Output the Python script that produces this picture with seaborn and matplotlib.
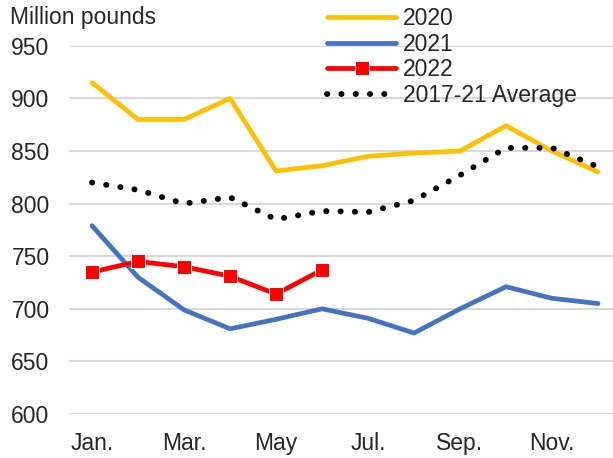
import pandas as pd
import matplotlib.pyplot as plt
import seaborn as sns

sns.set_style('white')
plt.rcParams['font.family'] = ['Liberation Sans', 'DejaVu Sans']

months = ['Jan.', 'Feb.', 'Mar.', 'Apr.', 'May', 'Jun.', 'Jul.', 'Aug.', 'Sep.', 'Oct.', 'Nov.', 'Dec.']
y2020 = [915, 880, 880, 900, 831, 836, 845, 848, 850, 874, 850, 830]
y2021 = [779, 730, 699, 681, 690, 700, 691, 677, 700, 721, 710, 705]
y2022 = [735, 745, 740, 731, 714, 737]
avg = [820, 813, 800, 806, 785, 793, 792, 803, 827, 853, 853, 835]

rows = []
for name, vals in [('2020', y2020), ('2021', y2021), ('2022', y2022), ('2017-21 Average', avg)]:
    for i, v in enumerate(vals):
        rows.append({'month': i, 'value': v, 'series': name})
df = pd.DataFrame(rows)

fig = plt.figure(figsize=(6.13, 4.58), dpi=100)
ax = fig.add_axes([0.1126, 0.096, 0.9005, 0.804])

palette = {'2020': '#FFC000', '2021': '#4472C4', '2022': '#FF0000', '2017-21 Average': 'black'}
sns.lineplot(data=df, x='month', y='value', hue='series', palette=palette, ax=ax,
             linewidth=3.4, legend=False, sort=False)

# restyle lines
lines = ax.get_lines()
for ln in lines:
    ln.set_solid_capstyle('round')
lines[2].set_marker('s')
lines[2].set_markersize(10)
lines[3].set_linestyle((0, (0.05, 2.4)))
lines[3].set_dash_capstyle('round')
lines[3].set_linewidth(4.2)

ax.set_xlim(-0.5, 11.5)
ax.set_ylim(600, 950)
ax.set_yticks(range(600, 951, 50))
ax.set_xticks(range(0, 12, 2))
ax.set_xticklabels(months[::2])
ax.tick_params(labelsize=16.5, length=0)
ax.tick_params(axis='x', pad=13)
ax.tick_params(axis='y', pad=14)
ax.grid(axis='y', color='#D9D9D9', linewidth=1.5)
ax.set_axisbelow(True)
for s in ax.spines.values():
    s.set_visible(False)
ax.set_xlabel('')
ax.set_ylabel('')

fig.text(0.016, 0.962, 'Million pounds', fontsize=16.5, va='center')

leg = fig.legend(lines, ['2020', '2021', '2022', '2017-21 Average'],
                 loc='upper left', bbox_to_anchor=(0.5, 1.03), frameon=False,
                 fontsize=16.5, handlelength=3.0, labelspacing=0.12,
                 handletextpad=0.3)

fig.savefig('out.png', dpi=100)
